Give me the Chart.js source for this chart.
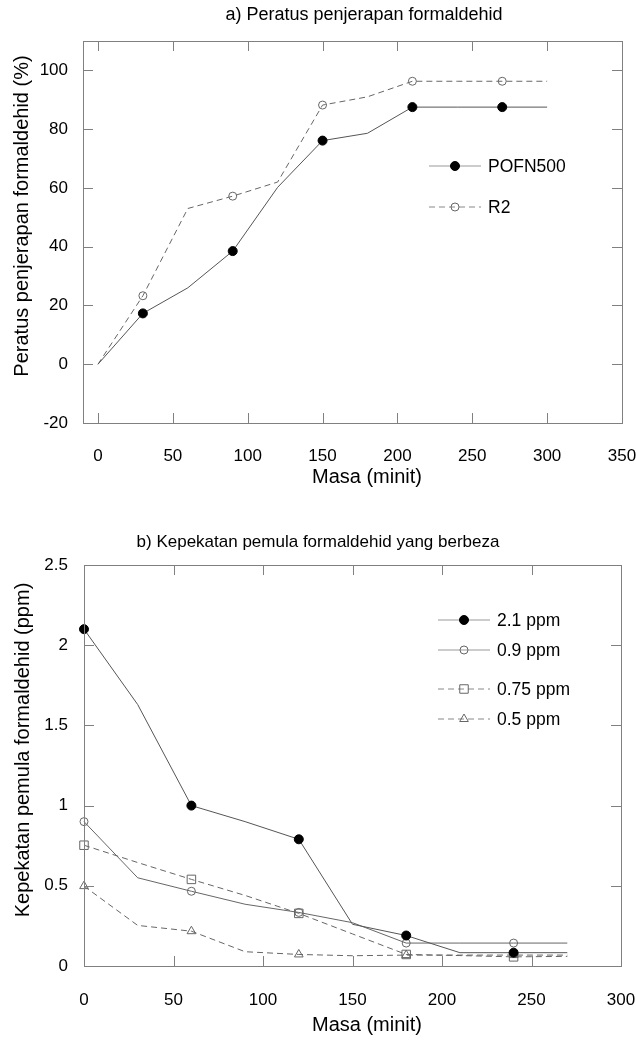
<!DOCTYPE html>
<html>
<head>
<meta charset="utf-8">
<script src="https://cdn.jsdelivr.net/npm/chart.js@4.4.1/dist/chart.umd.min.js"></script>
<style>
  body { margin: 0; background: #fff; }
  canvas { display: block; }
</style>
</head>
<body>
<canvas id="grafikA" width="636" height="520"></canvas>
<canvas id="grafikB" width="636" height="521"></canvas>
<script>
// a) Peratus penjerapan formaldehid
const masaA = [0, 30, 60, 90, 120, 150, 180, 210, 240, 270, 300];
const pofn500 = [0, 17.3, 26, 38.5, 60.2, 76.1, 78.6, 87.5, 87.5, 87.5, 87.5];
const r2 = [0, 23.3, 53, 57.2, 62, 88.2, 91, 96.3, 96.3, 96.3, 96.3];
const bertandaA = [30, 90, 150, 210, 270]; // titik yang diberi simbol
const xTicksA = [0, 50, 100, 150, 200, 250, 300, 350];
const yTicksA = [-20, 0, 20, 40, 60, 80, 100];

// b) Kepekatan pemula formaldehid yang berbeza
const masaB = [0, 30, 60, 90, 120, 150, 180, 210, 240, 270];
const ppm21 = [2.1, 1.63, 1.0, 0.9, 0.79, 0.26, 0.19, 0.083, 0.083, 0.083];
const ppm09 = [0.9, 0.55, 0.466, 0.385, 0.334, 0.27, 0.143, 0.143, 0.143, 0.143];
const ppm075 = [0.753, 0.645, 0.54, 0.44, 0.328, 0.2, 0.072, 0.065, 0.057, 0.06];
const ppm05 = [0.498, 0.253, 0.217, 0.089, 0.072, 0.064, 0.068, 0.068, 0.068, 0.068];
const bertandaB = [0, 60, 120, 180, 240];
const xTicksB = [0, 50, 100, 150, 200, 250, 300];
const yTicksB = [0, 0.5, 1, 1.5, 2, 2.5];

const FONT = '"Liberation Sans", Arial, sans-serif';
Chart.defaults.font.family = FONT;
Chart.defaults.color = '#000';

const titik = (xs, ys) => xs.map((x, i) => ({ x, y: ys[i] }));
const jejari = (xs, tanda, r) => xs.map(x => tanda.includes(x) ? r : 0);

function garis(label, xs, ys, tanda, gaya) {
  return Object.assign({
    label,
    data: titik(xs, ys),
    borderWidth: 1,
    tension: 0,
    clip: false,
    pointRadius: jejari(xs, tanda, gaya.r),
    pointBorderWidth: 1,
    pointHoverRadius: 0
  }, gaya.ds);
}

const penuh = { borderColor: '#555', pointStyle: 'circle', pointBackgroundColor: '#000', pointBorderColor: '#000' };
const kosong = (bentuk) => ({ borderColor: '#666', pointStyle: bentuk, pointBackgroundColor: 'rgba(0,0,0,0)', pointBorderColor: '#666' });
const putus = [6, 4];

// kotak + tanda skala ke dalam
const kotakPlugin = {
  id: 'kotak',
  afterDraw(chart) {
    const { ctx, chartArea: a, scales: { x, y } } = chart;
    ctx.save();
    ctx.strokeStyle = '#808080';
    ctx.lineWidth = 1;
    ctx.strokeRect(a.left + 0.5, a.top + 0.5, a.right - a.left, a.bottom - a.top);
    ctx.beginPath();
    x.ticks.forEach(t => {
      const px = Math.round(x.getPixelForValue(t.value)) + 0.5;
      if (px < a.left + 3 || px > a.right - 3) return;
      ctx.moveTo(px, a.bottom); ctx.lineTo(px, a.bottom - 10);
      ctx.moveTo(px, a.top); ctx.lineTo(px, a.top + 10);
    });
    y.ticks.forEach(t => {
      const py = Math.round(y.getPixelForValue(t.value)) + 0.5;
      if (py < a.top + 3 || py > a.bottom - 3) return;
      ctx.moveTo(a.left, py); ctx.lineTo(a.left + 10, py);
      ctx.moveTo(a.right, py); ctx.lineTo(a.right - 10, py);
    });
    ctx.stroke();
    ctx.restore();
  }
};

// tajuk, tajuk paksi dan petunjuk
const teksPlugin = {
  id: 'teks',
  afterDraw(chart, args, o) {
    const ctx = chart.ctx;
    ctx.save();
    ctx.fillStyle = '#000';
    ctx.textAlign = 'center';
    ctx.textBaseline = 'middle';
    ctx.font = o.tajukSaiz + 'px ' + FONT;
    ctx.fillText(o.tajuk, o.tajukX, o.tajukY);
    ctx.font = '20px ' + FONT;
    ctx.fillText(o.xTajuk, o.xTajukX, o.xTajukY);
    ctx.save();
    ctx.translate(o.yTajukX, o.yTajukY);
    ctx.rotate(-Math.PI / 2);
    ctx.fillText(o.yTajuk, 0, 0);
    ctx.restore();

    // petunjuk
    const p = o.petunjuk;
    chart.data.datasets.forEach((ds, i) => {
      const ly = p.ys[i];
      ctx.save();
      ctx.strokeStyle = ds.borderDash ? '#888' : '#999';
      ctx.lineWidth = 1;
      ctx.setLineDash(ds.borderDash || []);
      ctx.beginPath();
      ctx.moveTo(p.x1, ly); ctx.lineTo(p.x2, ly);
      ctx.stroke();
      ctx.setLineDash([]);
      ctx.fillStyle = ds.pointBackgroundColor;
      ctx.strokeStyle = ds.pointBorderColor;
      const r = Math.max(...ds.pointRadius);
      Chart.helpers.drawPoint(ctx, { pointStyle: ds.pointStyle, radius: r, rotation: 0, borderWidth: 1 }, (p.x1 + p.x2) / 2, ly);
      ctx.restore();
      ctx.fillStyle = '#000';
      ctx.textAlign = 'left';
      ctx.font = '17.5px ' + FONT;
      ctx.fillText(ds.label, p.teksX, ly + 1);
    });
    ctx.restore();
  }
};

function paksi(ticks, min, max, lebar, tinggi, pad) {
  const s = {
    type: 'linear', min, max,
    grid: { display: false, drawTicks: false },
    border: { display: false },
    ticks: { font: { size: 17 }, padding: pad, callback: v => String(v), maxRotation: 0, autoSkip: false },
    afterBuildTicks: sc => { sc.ticks = ticks.map(v => ({ value: v })); }
  };
  if (lebar) s.afterFit = sc => { sc.width = lebar; sc.paddingTop = 0; sc.paddingBottom = 0; };
  if (tinggi) s.afterFit = sc => { sc.height = tinggi; sc.paddingLeft = 0; sc.paddingRight = 0; };
  return s;
}

new Chart(document.getElementById('grafikA'), {
  type: 'line',
  data: {
    datasets: [
      garis('POFN500', masaA, pofn500, bertandaA, { r: 4.5, ds: penuh }),
      garis('R2', masaA, r2, bertandaA, { r: 4, ds: Object.assign({ borderDash: putus }, kosong('circle')) })
    ]
  },
  options: {
    responsive: false,
    animation: false,
    layout: { padding: { left: 0, top: 41, right: 14, bottom: 37 } },
    scales: {
      x: paksi(xTicksA, -10, 350, 0, 60, 23),
      y: paksi(yTicksA, -20, 110, 83, 0, 15)
    },
    plugins: {
      legend: { display: false },
      tooltip: { enabled: false },
      teks: {
        tajuk: 'a) Peratus penjerapan formaldehid', tajukSaiz: 18, tajukX: 364, tajukY: 15,
        xTajuk: 'Masa (minit)', xTajukX: 367, xTajukY: 477,
        yTajuk: 'Peratus penjerapan formaldehid (%)', yTajukX: 22, yTajukY: 216,
        petunjuk: { x1: 429, x2: 481, teksX: 488, ys: [166, 207] }
      }
    }
  },
  plugins: [kotakPlugin, teksPlugin]
});

new Chart(document.getElementById('grafikB'), {
  type: 'line',
  data: {
    datasets: [
      garis('2.1 ppm', masaB, ppm21, bertandaB, { r: 4.5, ds: penuh }),
      garis('0.9 ppm', masaB, ppm09, bertandaB, { r: 4, ds: kosong('circle') }),
      garis('0.75 ppm', masaB, ppm075, bertandaB, { r: 6, ds: Object.assign({ borderDash: putus }, kosong('rect')) }),
      garis('0.5 ppm', masaB, ppm05, bertandaB, { r: 5, ds: Object.assign({ borderDash: putus }, kosong('triangle')) })
    ]
  },
  options: {
    responsive: false,
    animation: false,
    layout: { padding: { left: 0, top: 45, right: 15, bottom: 15 } },
    scales: {
      x: paksi(xTicksB, 0, 300, 0, 60, 24),
      y: paksi(yTicksB, 0, 2.5, 84, 0, 16)
    },
    plugins: {
      legend: { display: false },
      tooltip: { enabled: false },
      teks: {
        tajuk: 'b) Kepekatan pemula formaldehid yang berbeza', tajukSaiz: 17, tajukX: 318, tajukY: 22,
        xTajuk: 'Masa (minit)', xTajukX: 367, xTajukY: 505,
        yTajuk: 'Kepekatan pemula formaldehid (ppm)', yTajukX: 23, yTajukY: 230,
        petunjuk: { x1: 438, x2: 490, teksX: 497, ys: [100, 130, 169, 199] }
      }
    }
  },
  plugins: [kotakPlugin, teksPlugin]
});
</script>
</body>
</html>
